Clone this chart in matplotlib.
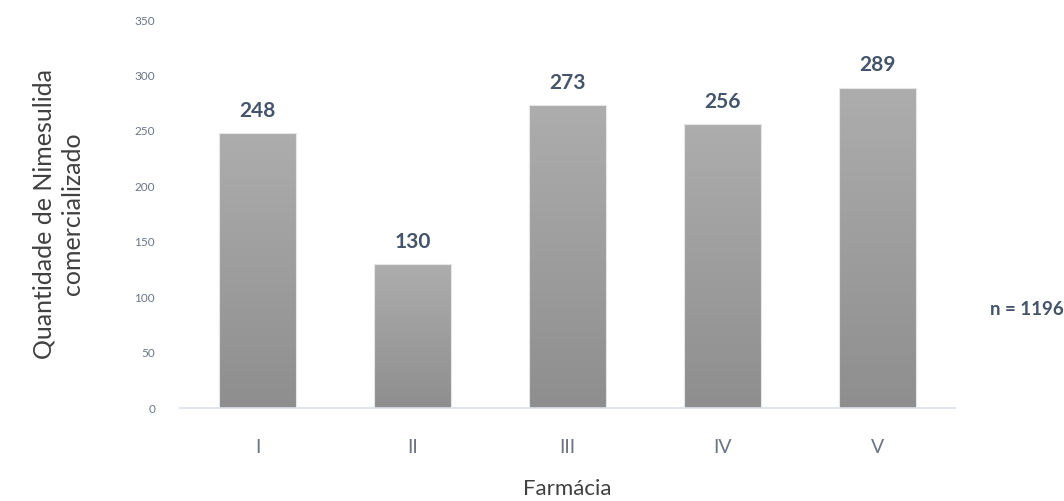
import matplotlib.pyplot as plt
import numpy as np
from matplotlib.colors import LinearSegmentedColormap

farmacias = ['I', 'II', 'III', 'IV', 'V']
quantidades = [248, 130, 273, 256, 289]
total = 1196
y_ticks = [0, 50, 100, 150, 200, 250, 300, 350]

label_color = '#44546A'
tick_color = '#6B7585'
axis_color = '#D9DEE6'


def main():
    plt.rcParams['font.family'] = ['Lato', 'DejaVu Sans']
    fig = plt.figure(figsize=(10.64, 5.01), dpi=100)
    ax = fig.add_axes([0.1692, 0.1856, 0.7284, 0.7744])

    x = np.arange(len(farmacias))
    bars = ax.bar(x, quantidades, width=0.5, color='none',
                  edgecolor='#E4E6EA', linewidth=0.8, zorder=3)

    # vertical grey gradient, light on top, darker at the base
    cmap = LinearSegmentedColormap.from_list('g', ['#8E8E8E', '#ADADAD'])
    grad = np.linspace(0, 1, 256).reshape(-1, 1)
    for b in bars:
        x0, y0 = b.get_x(), b.get_y()
        w, h = b.get_width(), b.get_height()
        im = ax.imshow(grad, cmap=cmap, origin='lower', aspect='auto',
                       extent=[x0, x0 + w, y0, y0 + h], zorder=2)
        im.set_clip_path(b)

    for xi, v in zip(x, quantidades):
        ax.text(xi, v + 11, str(v), ha='center', va='bottom',
                fontsize=15, fontweight='bold', color=label_color)

    ax.set_xlim(-0.5, len(farmacias) - 0.5)
    ax.set_ylim(0, 350)
    ax.set_yticks(y_ticks)
    ax.set_xticks(x)
    ax.set_xticklabels(farmacias)
    ax.tick_params(axis='y', length=0, labelsize=8.5, colors=tick_color, pad=18)
    ax.tick_params(axis='x', length=0, labelsize=14, colors=tick_color, pad=22)

    for side in ['top', 'right', 'left']:
        ax.spines[side].set_visible(False)
    ax.spines['bottom'].set_color(axis_color)
    ax.spines['bottom'].set_linewidth(1.2)

    ax.set_xlabel('Farmácia', fontsize=16, color='#404040', labelpad=17)
    ax.set_ylabel('Quantidade de Nimesulida\ncomercializado', fontsize=18,
                  color='#404040', labelpad=36, linespacing=1.3)

    fig.text(0.9995, 0.383, 'n = ' + str(total),
             ha='right', va='center', fontsize=13.5, fontweight='bold',
             color=label_color)

    fig.savefig('out.png', dpi=100)


if __name__ == '__main__':
    main()
